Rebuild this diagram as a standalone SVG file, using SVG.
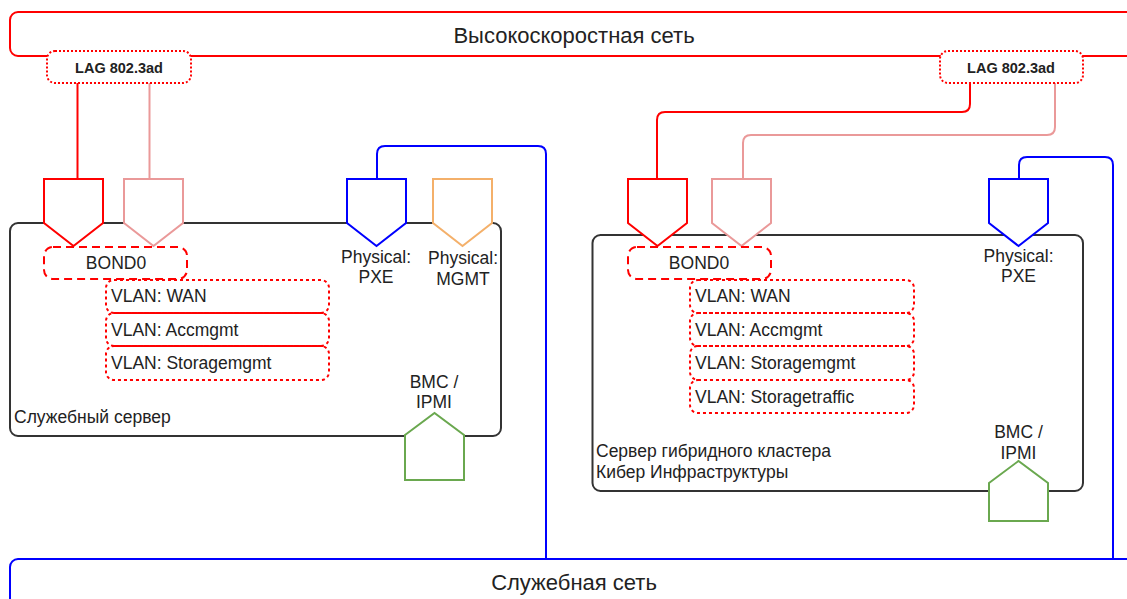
<svg xmlns="http://www.w3.org/2000/svg" width="1127" height="599" viewBox="0 0 1127 599">
<style>
text{font-family:"Liberation Sans",Arial,sans-serif;fill:#222;}
.t{font-size:17.5px;}
.big{font-size:22px;text-anchor:middle;}
.mid{text-anchor:middle;}
.lag{font-size:14.5px;font-weight:bold;text-anchor:middle;}
.srv{fill:none;stroke:#333;stroke-width:2;}
.lagbox{fill:#fff;stroke:#f00;stroke-width:2;stroke-dasharray:2 2;}
.bond{fill:none;stroke:#f00;stroke-width:2;stroke-dasharray:8 5;}
.vlan{fill:none;stroke:#f00;stroke-width:2;stroke-dasharray:3 3;}
.port{fill:#fff;stroke-width:2;}
.c{fill:none;stroke-width:2;}
</style>
<g id="hs-net">
<rect x="10" y="12" width="1140" height="44" rx="8" fill="#fff" stroke="#f00" stroke-width="2"/>
<text class="big" x="574" y="43">Высокоскоростная сеть</text>
</g>
<g id="svc-net">
<rect x="10" y="559" width="1140" height="60" rx="8" fill="#fff" stroke="#00f" stroke-width="2"/>
<text class="big" x="574" y="590">Служебная сеть</text>
</g>
<g id="connectors">
<path class="c" stroke="#f00" d="M77.5,83 V179"/>
<path class="c" stroke="#ea9999" d="M149.5,83 V179"/>
<path class="c" stroke="#00f" d="M377,179 V154 Q377,146 385,146 H538 Q546,146 546,154 V559"/>
<path class="c" stroke="#f00" d="M970,83 V104 Q970,112 962,112 H665 Q657,112 657,120 V179"/>
<path class="c" stroke="#ea9999" d="M1055,83 V127 Q1055,135 1047,135 H751 Q743,135 743,143 V179"/>
<path class="c" stroke="#00f" d="M1019,179 V165 Q1019,157 1027,157 H1105 Q1113,157 1113,165 V559"/>
</g>
<g id="server1">
<rect class="srv" x="10" y="223" width="491" height="213" rx="8"/>
<text class="t" x="14" y="423">Служебный сервер</text>
</g>
<g id="server2">
<rect class="srv" x="592.5" y="235" width="490.5" height="256" rx="8"/>
<text class="t" x="596" y="457">Сервер гибридного кластера</text>
<text class="t" x="596" y="478">Кибер Инфраструктуры</text>
</g>
<g id="lag1">
<rect class="lagbox" x="47" y="51" width="144" height="32" rx="8"/>
<text class="lag" x="119" y="73">LAG 802.3ad</text>
</g>
<g id="lag2">
<rect class="lagbox" x="940" y="51" width="143" height="32" rx="8"/>
<text class="lag" x="1011" y="73">LAG 802.3ad</text>
</g>
<g id="s1-port-red"><polygon class="port" stroke="#f00" points="44,179 103,179 103,223 73.5,246 44,223"/></g>
<g id="s1-port-pink"><polygon class="port" stroke="#ea9999" points="124,179 183,179 183,223 153.5,246 124,223"/></g>
<g id="s1-port-pxe">
<polygon class="port" stroke="#00f" points="347,179 406,179 406,223 376.5,246 347,223"/>
<text class="t mid" x="376" y="263">Physical:</text>
<text class="t mid" x="376" y="283">PXE</text>
</g>
<g id="s1-port-mgmt">
<polygon class="port" stroke="#f4b06a" points="433,179 492,179 492,223 462.5,246 433,223"/>
<text class="t mid" x="463" y="264">Physical:</text>
<text class="t mid" x="463" y="285">MGMT</text>
</g>
<g id="s1-bond">
<rect class="bond" x="44" y="247" width="143" height="32" rx="9"/>
<text class="t mid" x="116" y="269">BOND0</text>
</g>
<g id="s1-vlan-wan"><rect class="vlan" x="106" y="280" width="223" height="33" rx="8"/><text class="t" x="111" y="302">VLAN: WAN</text></g>
<g id="s1-vlan-acc"><rect class="vlan" x="106" y="313" width="223" height="33" rx="8"/><text class="t" x="111" y="335.5">VLAN: Accmgmt</text></g>
<g id="s1-vlan-stm"><rect class="vlan" x="106" y="346" width="223" height="34" rx="8"/><text class="t" x="111" y="369">VLAN: Storagemgmt</text></g>
<g id="s1-bmc">
<polygon class="port" stroke="#6aa84f" points="405,435 434.5,413 464,435 464,480 405,480"/>
<text class="t mid" x="434" y="388">BMC /</text>
<text class="t mid" x="434" y="408">IPMI</text>
</g>
<g id="s2-port-red"><polygon class="port" stroke="#f00" points="628,179 687,179 687,223 657.5,246 628,223"/></g>
<g id="s2-port-pink"><polygon class="port" stroke="#ea9999" points="712,179 771,179 771,223 741.5,246 712,223"/></g>
<g id="s2-port-pxe">
<polygon class="port" stroke="#00f" points="989,179 1048,179 1048,223 1018.5,246 989,223"/>
<text class="t mid" x="1018.5" y="262">Physical:</text>
<text class="t mid" x="1018.5" y="282">PXE</text>
</g>
<g id="s2-bond">
<rect class="bond" x="628" y="247" width="143" height="32" rx="9"/>
<text class="t mid" x="699" y="269">BOND0</text>
</g>
<g id="s2-vlan-wan"><rect class="vlan" x="690" y="280" width="224" height="33" rx="8"/><text class="t" x="695" y="302">VLAN: WAN</text></g>
<g id="s2-vlan-acc"><rect class="vlan" x="690" y="313" width="224" height="33" rx="8"/><text class="t" x="695" y="335.5">VLAN: Accmgmt</text></g>
<g id="s2-vlan-stm"><rect class="vlan" x="690" y="346" width="224" height="34" rx="8"/><text class="t" x="695" y="369">VLAN: Storagemgmt</text></g>
<g id="s2-vlan-stt"><rect class="vlan" x="690" y="380" width="224" height="33" rx="8"/><text class="t" x="695" y="402.5">VLAN: Storagetraffic</text></g>
<g id="s2-bmc">
<polygon class="port" stroke="#6aa84f" points="989,483 1018.5,461 1048,483 1048,521 989,521"/>
<text class="t mid" x="1018.5" y="437.5">BMC /</text>
<text class="t mid" x="1018.5" y="458.5">IPMI</text>
</g>
</svg>
